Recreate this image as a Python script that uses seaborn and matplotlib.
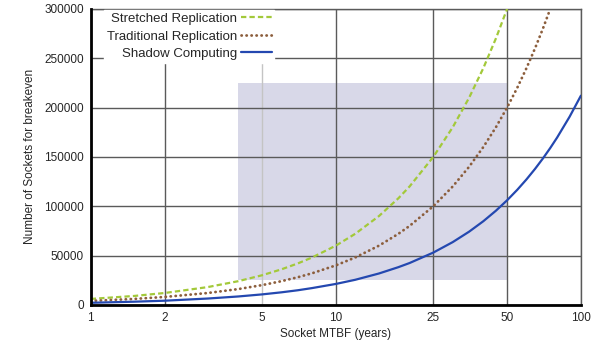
import matplotlib

matplotlib.use("Agg")

import matplotlib.pyplot as plt
import numpy as np
import pandas as pd
import seaborn as sns
from matplotlib.ticker import FixedLocator, FixedFormatter, NullLocator


# values
MTBF = [1, 1.5, 2, 3, 4, 5, 6, 7, 8, 10, 12, 15, 18, 20, 25, 30, 35, 40, 45, 50,
        55, 60, 65, 70, 75, 80, 90, 100]
STRETCHED = [6000, 9000, 12000, 18000, 24000, 30000, 36000, 42000, 48000, 60000,
             72000, 90000, 108000, 120000, 150000, 180000, 210000, 240000, 270000, 300000,
             None, None, None, None, None, None, None, None]
TRADITIONAL = [4000, 6000, 8000, 12000, 16000, 20000, 24000, 28000, 32000, 40000,
               48000, 60000, 72000, 80000, 100000, 120000, 140000, 160000, 180000, 200000,
               220000, 240000, 260000, 280000, 300000, None, None, None]
SHADOW = [2100, 3200, 4200, 6400, 8500, 10600, 12700, 14800, 17000, 21200,
          25400, 31800, 38200, 42400, 53000, 63600, 74200, 84800, 95400, 106000,
          116600, 127200, 137800, 148400, 159000, 169600, 190800, 212000]

SERIES = ["Stretched Replication", "Traditional Replication", "Shadow Computing"]
COLORS = ["#a3c93a", "#8c5e3c", "#2448b0"]

X_TICKS = [1, 2, 5, 10, 25, 50, 100]
Y_TICKS = [0, 50000, 100000, 150000, 200000, 250000, 300000]

BOX_X = [4, 50]
BOX_Y = [25000, 225000]


def main():
    sns.set_style("white")
    plt.rcParams["font.family"] = ["Liberation Sans", "DejaVu Sans"]

    df = pd.DataFrame({"mtbf": MTBF, SERIES[0]: STRETCHED, SERIES[1]: TRADITIONAL, SERIES[2]: SHADOW})
    long = df.melt(id_vars="mtbf", var_name="series", value_name="sockets").dropna()

    fig = plt.figure(figsize=(5.97, 3.41), dpi=100)
    ax = fig.add_axes([0.152, 0.106, 0.821, 0.868])

    ax.fill_between(BOX_X, BOX_Y[0], BOX_Y[1], color="#d8d8e8", linewidth=0, zorder=0.5)

    widths = {SERIES[0]: 1.6, SERIES[1]: 2.0, SERIES[2]: 1.6}
    styles = {SERIES[0]: (0, (2.4, 1.4)), SERIES[1]: (0, (0.1, 1.7)), SERIES[2]: "-"}
    for name, color in zip(SERIES, COLORS):
        sub = long[long["series"] == name]
        sns.lineplot(data=sub, x="mtbf", y="sockets", color=color, linewidth=widths[name],
                     ax=ax, label=name, zorder=3)
    for line, name in zip(ax.get_lines(), SERIES):
        line.set_linestyle(styles[name])
        if name == SERIES[1]:
            line.set_dash_capstyle("round")

    ax.set_xscale("log")
    ax.set_xlim(1, 100)
    ax.set_ylim(0, 300000)
    ax.xaxis.set_major_locator(FixedLocator(X_TICKS))
    ax.xaxis.set_major_formatter(FixedFormatter([str(t) for t in X_TICKS]))
    ax.xaxis.set_minor_locator(NullLocator())
    ax.set_yticks(Y_TICKS)
    ax.set_yticklabels([str(t) for t in Y_TICKS])

    ax.grid(True, color="#5a5a5a", linewidth=1)
    ax.set_axisbelow(False)
    for t, gl in zip(X_TICKS, ax.xaxis.get_gridlines()):
        gl.set_zorder(1)
        if t == 5:
            gl.set_color("#c4c4c4")
    for gl in ax.yaxis.get_gridlines():
        gl.set_zorder(1)

    ax.tick_params(axis="both", labelsize=8.5, length=0)
    ax.tick_params(axis="x", pad=5)
    ax.tick_params(axis="y", pad=5)

    for side in ["left", "bottom"]:
        ax.spines[side].set_color("black")
        ax.spines[side].set_linewidth(2)
        ax.spines[side].set_zorder(4)
    for side in ["top", "right"]:
        ax.spines[side].set_color("#5a5a5a")
        ax.spines[side].set_linewidth(1)

    ax.set_xlabel("Socket MTBF (years)", fontsize=8.5, labelpad=3)
    ax.set_ylabel("Number of Sockets for breakeven", fontsize=8.5, labelpad=6)

    leg = ax.legend(loc="upper left", bbox_to_anchor=(0.025, 1.0), markerfirst=False,
                    fontsize=9.5, frameon=True, fancybox=False, handlelength=2.3,
                    handletextpad=0.3, borderpad=0.2, labelspacing=0.4,
                    borderaxespad=0.1)
    leg.get_frame().set_facecolor("white")
    leg.get_frame().set_edgecolor("white")
    leg.get_frame().set_alpha(1)
    leg.set_zorder(5)
    for t in leg.get_texts():
        t.set_ha("right")

    fig.savefig("out.png", dpi=100)
    plt.close(fig)


if __name__ == "__main__":
    main()
